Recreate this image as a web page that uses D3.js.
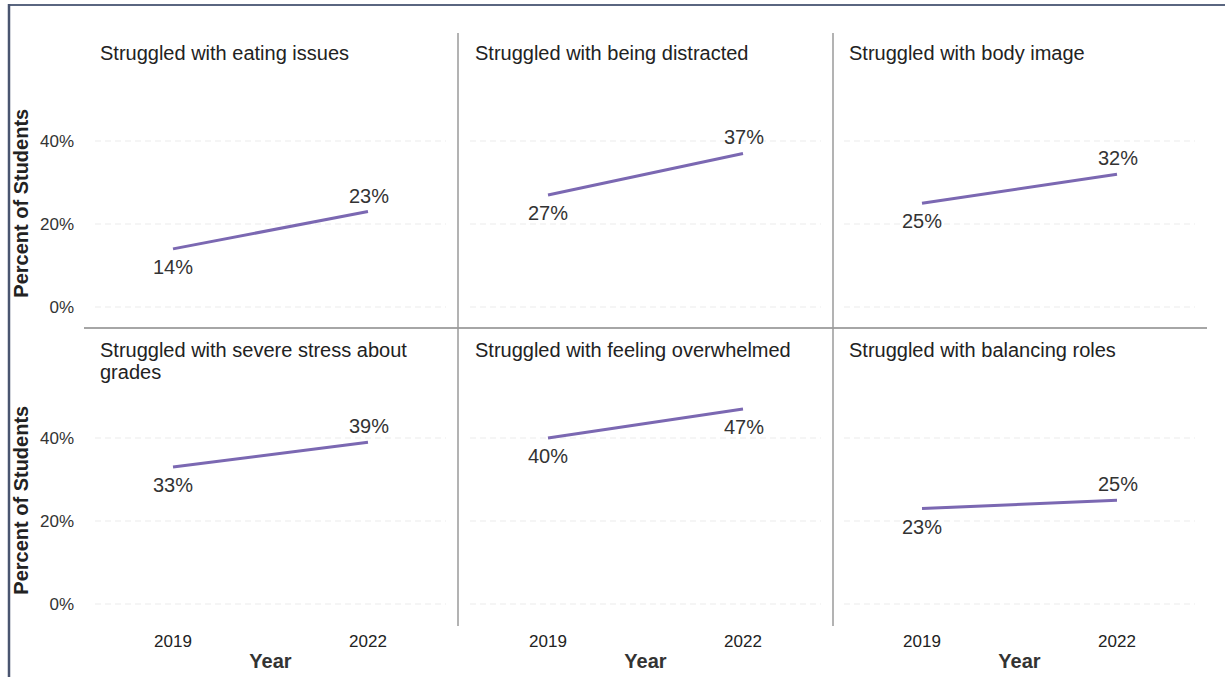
<!DOCTYPE html>
<html>
<head>
<meta charset="utf-8">
<script src="https://cdn.jsdelivr.net/npm/d3@7"></script>
<style>
  body { margin: 0; background: #fff; }
  svg { display: block; font-family: "Liberation Sans", Arial, sans-serif; }
</style>
</head>
<body>
<svg id="chart" width="1225" height="677"></svg>
<script>
// data
const titles = [
  'Struggled with eating issues',
  'Struggled with being distracted',
  'Struggled with body image',
  'Struggled with severe stress about grades',
  'Struggled with feeling overwhelmed',
  'Struggled with balancing roles'
];
const years = ['2019', '2022'];
const values2019 = [14, 27, 25, 33, 40, 23];
const values2022 = [23, 37, 32, 39, 47, 25];
const yTicks = [0, 20, 40];

const svg = d3.select('#chart');

// frame border (top + left)
svg.append('line').attr('x1', 8).attr('x2', 1225).attr('y1', 5).attr('y2', 5)
   .attr('stroke', '#5a6680').attr('stroke-width', 2);
svg.append('line').attr('x1', 9).attr('x2', 9).attr('y1', 4).attr('y2', 677)
   .attr('stroke', '#4a5570').attr('stroke-width', 2.5);

const colStart = [95, 470, 844];
const plotW = 351;
const rowZero = [307, 604];
const lineColor = '#7b68b2';

const y = d3.scaleLinear().domain([0, 40]).range([0, -166]);

// separators
svg.append('line').attr('x1', 84).attr('x2', 1207).attr('y1', 328).attr('y2', 328)
   .attr('stroke', '#a6a6a6').attr('stroke-width', 2);
[458, 833].forEach(x => {
  svg.append('line').attr('x1', x).attr('x2', x).attr('y1', 33).attr('y2', 626)
     .attr('stroke', '#9a9a9a').attr('stroke-width', 1.5);
});

titles.forEach((title, i) => {
  const col = i % 3, row = Math.floor(i / 3);
  const x = d3.scalePoint().domain(years).range([0, plotW]).padding(0.4);
  const g = svg.append('g').attr('transform', `translate(${colStart[col]},${rowZero[row]})`);

  // gridlines
  g.selectAll('.grid').data(yTicks).enter().append('line')
    .attr('x1', 0).attr('x2', plotW)
    .attr('y1', d => y(d)).attr('y2', d => y(d))
    .attr('stroke', '#ebebeb').attr('stroke-width', 1).attr('stroke-dasharray', '6,4');

  // title (wrap to width)
  const t = g.append('text').attr('x', 5).attr('y', -247)
    .attr('font-size', 20).attr('fill', '#222');
  const words = title.split(' ');
  let line = [];
  let tspan = t.append('tspan').attr('x', 5).attr('dy', 0);
  words.forEach(w => {
    line.push(w);
    tspan.text(line.join(' '));
    if (tspan.node().getComputedTextLength() > 335 && line.length > 1) {
      line.pop();
      tspan.text(line.join(' '));
      line = [w];
      tspan = t.append('tspan').attr('x', 5).attr('dy', 22).text(w);
    }
  });

  // y axis labels + title on first column
  if (col === 0) {
    g.selectAll('.ytick').data(yTicks).enter().append('text')
      .attr('x', -21).attr('y', d => y(d) + 6)
      .attr('text-anchor', 'end').attr('font-size', 17).attr('fill', '#333')
      .text(d => d + '%');
    g.append('text')
      .attr('transform', `translate(-67,${y(25)}) rotate(-90)`)
      .attr('text-anchor', 'middle').attr('font-size', 20).attr('font-weight', 'bold')
      .attr('fill', '#222').text('Percent of Students');
  }

  // x axis on bottom row
  if (row === 1) {
    g.selectAll('.xtick').data(years).enter().append('text')
      .attr('x', d => x(d)).attr('y', 43)
      .attr('text-anchor', 'middle').attr('font-size', 17).attr('fill', '#222')
      .text(d => d);
    g.append('text').attr('x', plotW / 2).attr('y', 64)
      .attr('text-anchor', 'middle').attr('font-size', 20).attr('font-weight', 'bold')
      .attr('fill', '#333').text('Year');
  }

  const pts = [
    { year: years[0], v: values2019[i] },
    { year: years[1], v: values2022[i] }
  ];
  g.append('path').datum(pts)
    .attr('d', d3.line().x(d => x(d.year)).y(d => y(d.v)))
    .attr('fill', 'none').attr('stroke', lineColor).attr('stroke-width', 3);

  // labels: first below, second above unless near the top
  g.selectAll('.lbl').data(pts).enter().append('text')
    .attr('x', (d, k) => x(d.year) + (k === 0 ? 0 : 1))
    .attr('y', (d, k) => {
      const below = k === 0 || d.v > 45;
      return y(d.v) + (below ? 25 : -9);
    })
    .attr('text-anchor', 'middle').attr('font-size', 20).attr('fill', '#333')
    .text(d => d.v + '%');
});
</script>
</body>
</html>
